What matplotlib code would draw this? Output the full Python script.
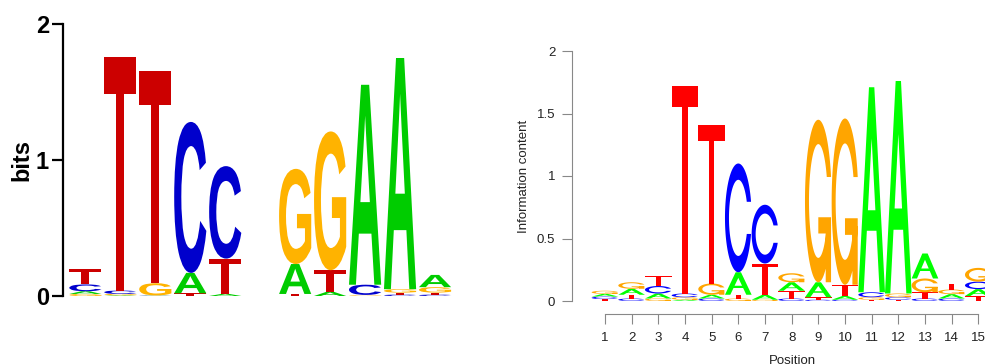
import matplotlib
matplotlib.use("Agg")
import numpy as np
import matplotlib.pyplot as plt
from matplotlib.textpath import TextPath
from matplotlib.patches import PathPatch
from matplotlib.path import Path
from matplotlib.font_manager import FontProperties
from matplotlib.transforms import Affine2D

plt.rcParams["font.family"] = ["Liberation Sans", "DejaVu Sans"]

# left logo (bits), 11 positions, heights per letter
left_A = [0.020, 0.005, 0.002, 0.150, 0.015, 0.0, 0.220, 0.030, 1.470, 1.700, 0.090]
left_C = [0.050, 0.025, 0.002, 1.110, 0.680, 0.0, 0.000, 0.000, 0.075, 0.010, 0.010]
left_G = [0.015, 0.010, 0.090, 0.000, 0.000, 0.0, 0.700, 1.020, 0.005, 0.025, 0.040]
left_T = [0.110, 1.720, 1.560, 0.020, 0.260, 0.0, 0.015, 0.160, 0.003, 0.015, 0.015]

# right logo (information content), 15 positions
right_A = [0.022, 0.048, 0.040, 0.010, 0.030, 0.180, 0.040, 0.068, 0.120, 0.030, 1.640, 1.700, 0.200, 0.035, 0.055]
right_C = [0.020, 0.020, 0.060, 0.030, 0.020, 0.870, 0.470, 0.020, 0.010, 0.010, 0.040, 0.020, 0.020, 0.020, 0.060]
right_G = [0.025, 0.052, 0.020, 0.020, 0.090, 0.020, 0.010, 0.072, 1.300, 1.330, 0.020, 0.030, 0.110, 0.037, 0.110]
right_T = [0.015, 0.030, 0.080, 1.660, 1.270, 0.030, 0.250, 0.062, 0.020, 0.090, 0.010, 0.010, 0.050, 0.045, 0.040]
right_positions = list(range(1, 16))

left_colors = {"A": "#00CC00", "C": "#0000CC", "G": "#FFB300", "T": "#CC0000"}
right_colors = {"A": "#00FF00", "C": "#0000FF", "G": "#FFA500", "T": "#FF0000"}

font = FontProperties(family="Liberation Sans", weight="bold")


def font_glyph(letter):
    tp = TextPath((0, 0), letter, size=1, prop=font)
    bb = tp.get_extents()
    return Affine2D().translate(-bb.x0, -bb.y0).scale(1 / bb.width, 1 / bb.height).transform_path(tp)


def ring_outline():
    # open ring used for C and G (unit box), seqLogo style
    a1 = np.linspace(0.3 + np.pi / 2, np.pi, 100)
    a2 = np.linspace(np.pi, 1.5 * np.pi, 100)
    xl = np.r_[0.5 + 0.5 * np.sin(a1), 0.5 + 0.5 * np.sin(a2)]
    yl = np.r_[0.5 + 0.5 * np.cos(a1), 0.5 + 0.5 * np.cos(a2)]
    x = np.r_[xl, xl[::-1]]
    y = np.r_[yl, 1 - yl[::-1]]
    ymax = (0.5 + 0.5 * np.cos(a1)).max()
    xi1 = 0.5 + 0.35 * np.sin(a1)
    yi1 = 0.5 + 0.35 * np.cos(a1)
    keep = yi1 <= ymax
    xi1, yi1 = xi1[keep], yi1[keep]
    yi1[0] = ymax
    xi = np.r_[xi1, 0.5 + 0.35 * np.sin(a2)]
    yi = np.r_[yi1, 0.5 + 0.35 * np.cos(a2)]
    x1 = np.r_[xi, xi[::-1]]
    y1 = np.r_[yi, 1 - yi[::-1]]
    return np.r_[x, x1[::-1]], np.r_[y, y1[::-1]], 0.5 + 0.5 * np.sin(a1).max()


def orient(p, ccw=True):
    p = np.asarray(p, dtype=float)
    area = 0.5 * np.sum(p[:, 0] * np.roll(p[:, 1], -1) - np.roll(p[:, 0], -1) * p[:, 1])
    if (area > 0) != ccw:
        p = p[::-1]
    return p


def poly_path(outers, holes=()):
    verts, codes = [], []
    polys = [orient(p, True) for p in outers] + [orient(p, False) for p in holes]
    for p in polys:
        verts.extend(p.tolist() + [p[0].tolist()])
        codes.extend([Path.MOVETO] + [Path.LINETO] * (len(p) - 1) + [Path.CLOSEPOLY])
    return Path(verts, codes)


def seq_glyphs():
    rx, ry, r1 = ring_outline()
    ring = np.c_[rx, ry]
    g_add = [(r1, 0.4), (0.5, 0.4), (0.5, 0.3), (r1 - 0.2, 0.3), (r1 - 0.2, 0), (r1, 0)]
    a_out = [(0, 0), (0.4, 1), (0.6, 1), (1, 0), (0.8, 0), (0.68, 0.3), (0.32, 0.3), (0.2, 0)]
    a_hole = [(0.64, 0.4), (0.5, 0.75), (0.36, 0.4)]
    t_poly = [(0, 1), (1, 1), (1, 0.9), (0.6, 0.9), (0.6, 0), (0.4, 0), (0.4, 0.9), (0, 0.9)]
    return {"A": poly_path([a_out], [a_hole]), "C": poly_path([ring]),
            "G": poly_path([ring, g_add]), "T": poly_path([t_poly])}


def draw_logo(ax, cols, colors, width, glyphs):
    letters = ["A", "C", "G", "T"]
    for i in range(len(cols[0])):
        stack = sorted(zip(letters, [c[i] for c in cols]), key=lambda t: t[1])
        y = 0.0
        for letter, h in stack:
            if h > 0:
                tr = Affine2D().scale(width, h).translate(i + 1 - width / 2, y)
                ax.add_patch(PathPatch(tr.transform_path(glyphs[letter]), fc=colors[letter],
                                       ec="none", lw=0, clip_on=False))
            y += h


fig = plt.figure(figsize=(9.85, 3.64), dpi=100)

# left panel
ax1 = fig.add_axes([63 / 985, 68 / 364, 393 / 985, 272 / 364])
draw_logo(ax1, [left_A, left_C, left_G, left_T], left_colors, 0.92,
          {k: font_glyph(k) for k in "ACGT"})
ax1.set_xlim(0.36, 11.6)
ax1.set_ylim(0, 2)
for s in ["top", "right", "bottom"]:
    ax1.spines[s].set_visible(False)
ax1.spines["left"].set_linewidth(1.6)
ax1.set_xticks([])
ax1.set_yticks([0, 1, 2])
ax1.tick_params(axis="y", length=8, width=1.6, pad=2, labelsize=17)
for t in ax1.get_yticklabels():
    t.set_fontweight("bold")
ax1.set_ylabel("bits", fontsize=17, fontweight="bold", labelpad=2)

# right panel
ax2 = fig.add_axes([572 / 985, 63 / 364, 433 / 985, 250 / 364])
draw_logo(ax2, [right_A, right_C, right_G, right_T], right_colors, 1.0, seq_glyphs())
ax2.set_xlim(-0.236, 16.0)
ax2.set_ylim(0, 2)
for s in ["top", "right"]:
    ax2.spines[s].set_visible(False)
ax2.spines["left"].set_color("#888888")
ax2.spines["bottom"].set_color("#888888")
ax2.spines["bottom"].set_position(("outward", 9))
ax2.spines["bottom"].set_bounds(1, 15)
ax2.set_xticks(right_positions)
ax2.set_yticks([0, 0.5, 1, 1.5, 2])
ax2.set_yticklabels(["0", "0.5", "1", "1.5", "2"])
ax2.tick_params(axis="both", colors="#888888", labelcolor="#222222",
                labelsize=9.5, length=7)
ax2.tick_params(axis="y", pad=5)
ax2.tick_params(axis="x", pad=6)
ax2.set_xlabel("Position", fontsize=9.5, color="#222222")
ax2.set_ylabel("Information content", fontsize=9.5, color="#222222")
ax2.xaxis.set_label_coords((792 - 572) / 433, -0.215)
ax2.yaxis.set_label_coords(-0.097, 0.5)

fig.savefig("out.png", dpi=100)
